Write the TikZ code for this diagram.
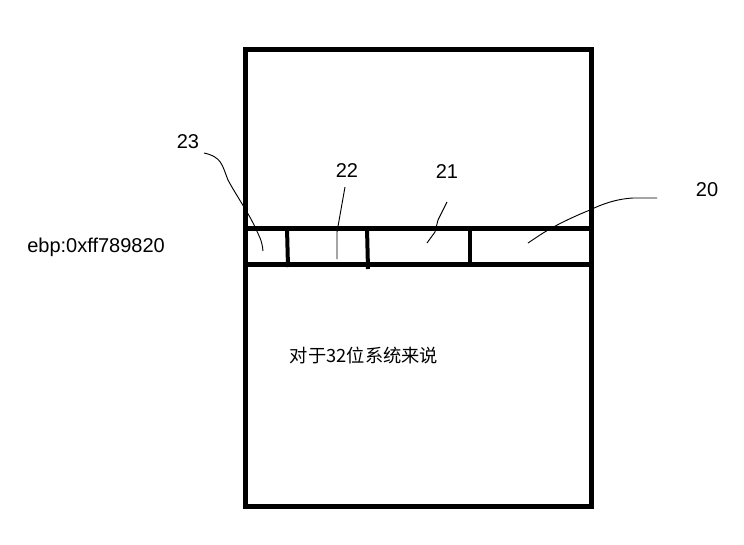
\documentclass[tikz,border=0pt]{standalone}
\usepackage{fontspec}
\setmainfont{Liberation Sans}[Ligatures=NoCommon]
\newfontfamily\cjk{Noto Sans CJK SC}
\begin{document}
\begin{tikzpicture}[x=0.75pt,y=-0.75pt,
  frame/.style={line width=3.75pt},
  divider/.style={line width=3pt},
  leader/.style={line width=0.7pt},
  lbl/.style={font=\fontsize{15pt}{17pt}\selectfont, inner sep=0pt}]
\useasboundingbox (0,0) rectangle (744,544);
% outer frame
\draw[frame] (245,49) rectangle (591,506);
% band
\draw[frame] (245,228) -- (591,228);
\draw[frame] (245,264) -- (591,264);
% dividers
\draw[divider] (287,228) -- (288,267);
\draw[divider] (367,228) -- (368,269);
\draw[divider] (470,228) -- (470,263);
% labels
\node[lbl] (l23) at (188,142) {23};
\node[lbl] (l22) at (347,171) {22};
\node[lbl] (l21) at (447,172) {21};
\node[lbl] (l20) at (707,190) {20};
\node[lbl, anchor=west] (ebp) at (27,247) {ebp:0xff789820};
\node[inner sep=0pt, font=\cjk\fontsize{13.7pt}{16pt}\selectfont] (note) at (364,355) {对于32位系统来说};
% leader ends
\coordinate (e23) at (263,251);
\coordinate (e22) at (337,259);
\coordinate (e21) at (427,243);
\coordinate (e20) at (528,243);
% leaders
\draw[leader] (204,153) .. controls (222,157) and (222,165) .. (228,180)
  .. controls (236,195) and (248,212) .. (255,227)
  .. controls (259,236) and (262,240) .. (e23);
\draw[leader] (345,187) -- (337,232) -- (e22);
\draw[leader] (447,202) -- (438,220) -- (435,232) -- (e21);
\draw[leader] (657,198) -- (633,198) .. controls (615,199) and (600,205) .. (590,210)
  .. controls (570,218) and (550,228) .. (537,237) -- (e20);
\end{tikzpicture}
\end{document}
